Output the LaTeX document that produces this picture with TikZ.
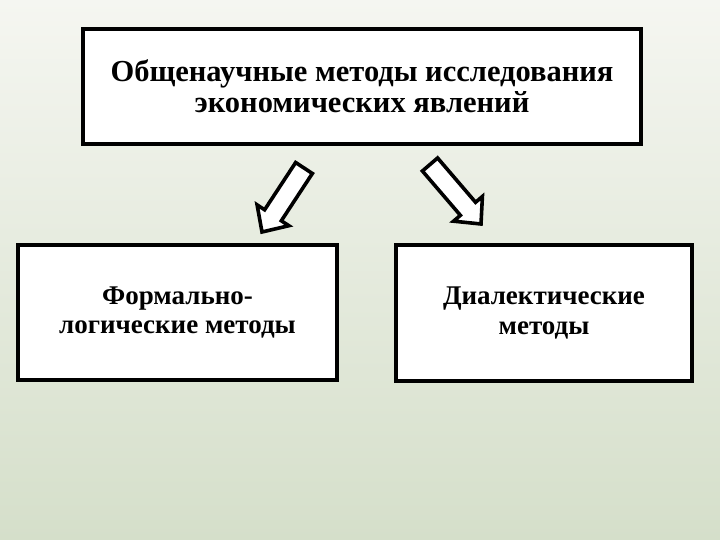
\documentclass[tikz,border=0pt]{standalone}
\usepackage{fontspec}
\setmainfont{Liberation Serif}
\usetikzlibrary{calc}

\definecolor{bgtop}{RGB}{245,246,241}
\definecolor{bgbottom}{RGB}{213,223,202}

\tikzset{
  box/.style={draw=black, line width=3.8pt, fill=white, align=center,
    inner sep=0pt},
  bigtext/.style={font=\fontsize{30.5}{31}\selectfont\bfseries},
  smalltext/.style={font=\fontsize{27}{29.5}\selectfont\bfseries},
  blockarrow/.style={draw=black, line width=3.6pt, fill=white,
    line join=miter},
}

% outlined block arrow from tail point #1 to tip point #2
\newcommand{\blockarr}[2]{%
  \coordinate (hb) at ($(#2)!20pt!(#1)$);
  \draw[blockarrow] ($(#1)!10pt!90:(#2)$) -- ($(hb)!10pt!-90:(#1)$)
    -- ($(hb)!19pt!-90:(#1)$) -- (#2) -- ($(hb)!19pt!90:(#1)$)
    -- ($(hb)!10pt!90:(#1)$) -- ($(#1)!10pt!-90:(#2)$) -- cycle;
}

\begin{document}
\begin{tikzpicture}[x=1pt, y=-1pt]
    % Background
    \shade[top color=bgtop, bottom color=bgbottom] (0,0) rectangle (720,540);
    \useasboundingbox (0,0) rectangle (720,540);

    % Boxes
    \node[box, bigtext, minimum width=558pt, minimum height=115pt] (general)
      at (362,86.5) {Общенаучные методы исследования\\экономических явлений};
    \node[box, smalltext, minimum width=319pt, minimum height=135pt] (formal)
      at (177.5,312.5) {Формально-\\логические методы};
    \node[box, smalltext, minimum width=296pt, minimum height=136pt] (dialect)
      at (544,313) {Диалектические\\методы};

    % Arrows
    \coordinate (tailL) at (304,168);
    \coordinate (tipL) at (262,232);
    \coordinate (tailR) at (430,164.5);
    \coordinate (tipR) at (481,224);
    \blockarr{tailL}{tipL}
    \blockarr{tailR}{tipR}
  \end{tikzpicture}
\end{document}
